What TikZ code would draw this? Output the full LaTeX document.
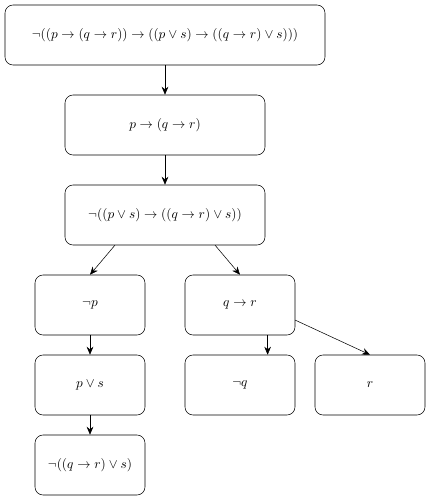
\documentclass[tikz,border=0pt]{standalone}
\usepackage{amsmath, amssymb}
\usetikzlibrary{arrows.meta, calc}

\begin{document}
\begin{tikzpicture}[x=0.75pt, y=-0.75pt,
    box/.style={draw, rounded corners=6pt, minimum height=45pt, inner sep=0pt, font=\normalsize},
    wide/.style={box, minimum width=240pt},
    mid/.style={box, minimum width=150pt},
    small/.style={box, minimum width=82.5pt},
    arr/.style={-{Stealth[length=6pt, width=5pt]}, thin}]
  \useasboundingbox (0,0) rectangle (431,501);
  % the tree
  \node[wide]  (root) at (165,35)  {$\neg((p \to (q \to r)) \to ((p \lor s) \to ((q \to r) \lor s)))$};
  \node[mid]   (a)    at (165,125) {$p \to (q \to r)$};
  \node[mid]   (b)    at (165,215) {$\neg((p \lor s) \to ((q \to r) \lor s))$};
  \node[small] (np)   at (90,305)  {$\neg p$};
  \node[small] (qr)   at (240,305) {$q \to r$};
  \node[small] (ps)   at (90,385)  {$p \lor s$};
  \node[small] (nq)   at (240,385) {$\neg q$};
  \node[small] (r)    at (370,385) {$r$};
  \node[small] (last) at (90,465)  {$\neg((q \to r) \lor s)$};
  \draw[arr] (root) -- (a);
  \draw[arr] (a) -- (b);
  \draw[arr] ($(b.south west)!0.25!(b.south east)$) -- (np.north);
  \draw[arr] ($(b.south west)!0.75!(b.south east)$) -- (qr.north);
  \draw[arr] ($(qr.south west)!0.75!(qr.south east)$) -- ($(nq.north west)!0.75!(nq.north east)$);
  \draw[arr] ($(qr.north east)!0.75!(qr.south east)$) -- (r.north);
  \draw[arr] (np) -- (ps);
  \draw[arr] (ps) -- (last);
\end{tikzpicture}
\end{document}
